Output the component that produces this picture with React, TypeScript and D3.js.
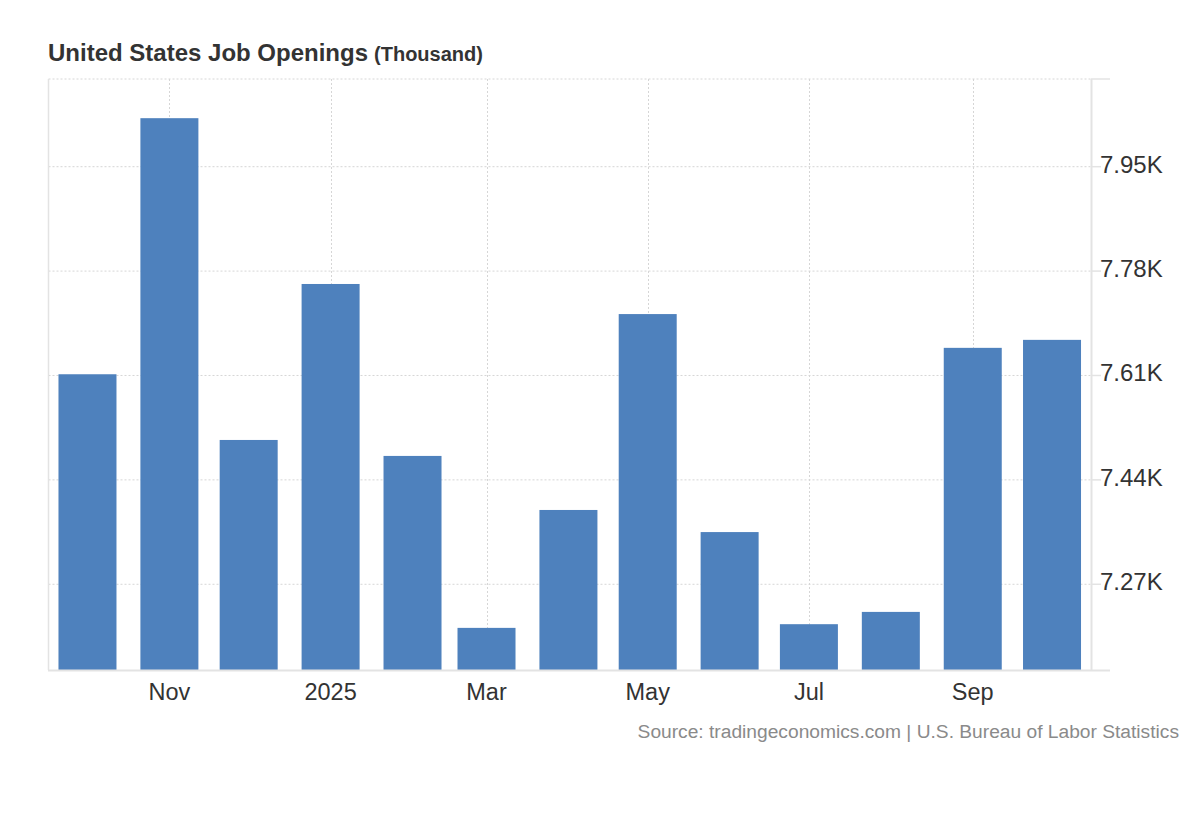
import React from "react";
import * as d3 from "d3";

const months: string[] = [
  "2024-10-01", "2024-11-01", "2024-12-01", "2025-01-01", "2025-02-01", "2025-03-01",
  "2025-04-01", "2025-05-01", "2025-06-01", "2025-07-01", "2025-08-01", "2025-09-01", "2025-10-01",
];
const openings: number[] = [7612, 8029, 7505, 7759, 7479, 7199, 7391, 7710, 7355, 7205, 7225, 7655, 7668];
const yTicks: number[] = [7270, 7440, 7610, 7780, 7950];
const xTickDates: string[] = ["2024-11-01", "2025-01-01", "2025-03-01", "2025-05-01", "2025-07-01", "2025-09-01"];
const xTickLabels: string[] = ["Nov", "2025", "Mar", "May", "Jul", "Sep"];

const W = 1200;
const H = 820;
const left = 48.5;
const right = 1091;
const top = 79;
const bottom = 670;
const FONT = "'Liberation Sans', Arial, sans-serif";

export default function App() {
  const parse = d3.utcParse("%Y-%m-%d");
  const dates = months.map((m) => parse(m) as Date);
  const pad = 14.75 * 24 * 3600 * 1000;
  const x = d3
    .scaleUtc()
    .domain([new Date(dates[0].getTime() - pad), new Date(dates[dates.length - 1].getTime() + pad)])
    .range([left, right]);
  const y = d3.scaleLinear().domain([7130.4, 8092.8]).range([bottom, top]);
  const barW = 58;
  const grid = "#d6d6d6";
  const axis = "#e3e3e3";

  return (
    <svg width={W} height={H} style={{ display: "block", position: "absolute", left: 0, top: 0 }}>
      <rect width={W} height={H} fill="#fff" />
      <text x={48} y={61} fontFamily={FONT} fill="#333" fontWeight="bold">
        <tspan fontSize={24}>United States Job Openings</tspan>
        <tspan fontSize={20} dx={6}>(Thousand)</tspan>
      </text>

      {/* horizontal grid */}
      {[...yTicks, 8092.8].map((t, i) => (
        <line key={"hg" + i} x1={left} x2={right} y1={y(t)} y2={y(t)} stroke={grid} strokeDasharray="2,2" />
      ))}
      {/* vertical grid */}
      {xTickDates.map((d, i) => {
        const xx = Math.round(x(parse(d) as Date)) + 0.5;
        return <line key={"vg" + i} x1={xx} x2={xx} y1={top} y2={bottom} stroke={grid} strokeDasharray="2,2" />;
      })}

      {/* bars */}
      {dates.map((d, i) => (
        <rect
          key={"b" + i}
          x={x(d) - barW / 2}
          y={y(openings[i])}
          width={barW}
          height={bottom - y(openings[i])}
          fill="#4e81bd"
        />
      ))}

      {/* axes */}
      <line x1={48.5} x2={48.5} y1={top} y2={bottom} stroke={axis} strokeWidth={1.5} />
      <line x1={right + 0.5} x2={right + 0.5} y1={top} y2={bottom} stroke={axis} strokeWidth={2} />
      <line x1={48} x2={1110} y1={bottom + 0.5} y2={bottom + 0.5} stroke={axis} strokeWidth={2} />
      <line x1={right} x2={1110} y1={top} y2={top} stroke={axis} strokeWidth={1.5} />
      {yTicks.map((t, i) => (
        <line key={"yt" + i} x1={right} x2={1101} y1={y(t)} y2={y(t)} stroke={axis} strokeWidth={1.5} />
      ))}

      {/* y labels */}
      {yTicks.map((t, i) => (
        <text key={"yl" + i} x={1100} y={y(t) + 6} fontFamily={FONT} fontSize={24} fill="#333">
          {(t / 1000).toFixed(2) + "K"}
        </text>
      ))}
      {/* x labels */}
      {xTickDates.map((d, i) => (
        <text
          key={"xl" + i}
          x={x(parse(d) as Date)}
          y={700}
          textAnchor="middle"
          fontFamily={FONT}
          fontSize={23.5}
          fill="#333"
        >
          {xTickLabels[i]}
        </text>
      ))}

      <text x={1179} y={738} textAnchor="end" fontFamily={FONT} fontSize={19.2} fill="#8a8a8a">
        Source: tradingeconomics.com | U.S. Bureau of Labor Statistics
      </text>
    </svg>
  );
}
